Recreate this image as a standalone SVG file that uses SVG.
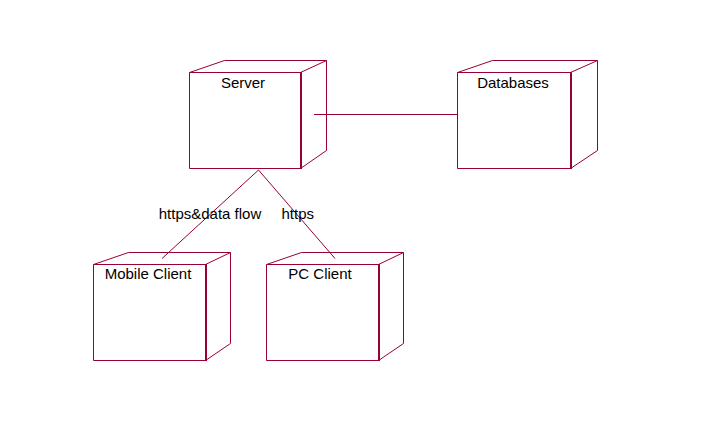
<svg xmlns="http://www.w3.org/2000/svg" width="705" height="429" viewBox="0 0 705 429">
<style>
.f{fill:#fff;stroke:#990033;stroke-width:1}
.e{fill:none;stroke:#990033;stroke-width:1}
.t{stroke:#990033;stroke-width:2}
.c{fill:none;stroke:#990033;stroke-width:1}
text{font-family:"Liberation Sans",Arial,sans-serif;font-size:15px;fill:#000}
</style>
<rect width="705" height="429" fill="#fff"/>
<g id="server">
<polygon class="f" points="189.5,72.5 224.5,60.5 326.5,60.5 326.5,150.5 300.5,168.5 189.5,168.5"/>
<polyline class="e" points="189.5,72.5 300.5,72.5 326.5,60.5"/>
<line class="t" x1="301" y1="72" x2="301" y2="169"/>
<text x="243" y="88" text-anchor="middle">Server</text>
</g>
<g id="databases">
<polygon class="f" points="457.5,72.5 492.5,60.5 597.5,60.5 597.5,150.5 570.5,168.5 457.5,168.5"/>
<polyline class="e" points="457.5,72.5 570.5,72.5 597.5,60.5"/>
<line class="t" x1="571" y1="72" x2="571" y2="169"/>
<text x="513" y="88" text-anchor="middle">Databases</text>
</g>
<g id="mobile-client">
<polygon class="f" points="93.5,264.5 128.5,252.5 230.5,252.5 230.5,343.5 205.5,360.5 93.5,360.5"/>
<polyline class="e" points="93.5,264.5 205.5,264.5 230.5,252.5"/>
<line class="t" x1="206" y1="264" x2="206" y2="361"/>
<text x="148" y="279" text-anchor="middle">Mobile Client</text>
</g>
<g id="pc-client">
<polygon class="f" points="266.5,264.5 301.5,252.5 403.5,252.5 403.5,343.5 378.5,360.5 266.5,360.5"/>
<polyline class="e" points="266.5,264.5 378.5,264.5 403.5,252.5"/>
<line class="t" x1="379" y1="264" x2="379" y2="361"/>
<text x="320" y="279" text-anchor="middle">PC Client</text>
</g>
<g id="connectors">
<line class="c" x1="314" y1="114.5" x2="458" y2="114.5"/>
<line class="c" x1="258.5" y1="170" x2="162" y2="258.5"/>
<line class="c" x1="258.5" y1="170" x2="335" y2="258.5"/>
<text x="210" y="219" text-anchor="middle">https&amp;data flow</text>
<text x="281.5" y="219">https</text>
</g>
</svg>
